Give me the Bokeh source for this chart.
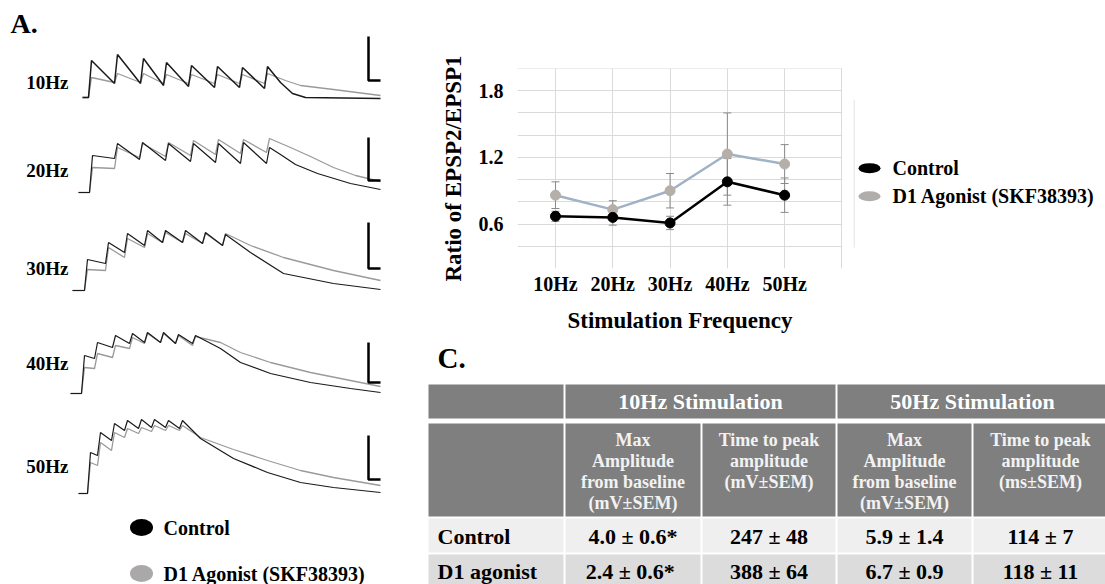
from bokeh.plotting import figure
from bokeh.layouts import row, column
from bokeh.models import Range1d, FixedTicker, Whisker, TeeHead, ColumnDataSource
from bokeh.core.properties import value
from bokeh.embed import file_html
from bokeh.resources import INLINE

SERIF = "Liberation Serif"

# ---------------- data: paired-pulse ratio chart ----------------
freq_labels = ["10Hz", "20Hz", "30Hz", "40Hz", "50Hz"]
freq_pos = [1, 2, 3, 4, 5]
ctrl_ratio = [0.67, 0.66, 0.61, 0.98, 0.86]
ctrl_sem = [0.045, 0.07, 0.06, 0.21, 0.155]
d1_ratio = [0.86, 0.73, 0.90, 1.23, 1.14]
d1_sem = [0.12, 0.08, 0.155, 0.37, 0.175]
y_tick_vals = [0.6, 1.2, 1.8]
legend_labels = ["Control", "D1 Agonist (SKF38393)"]

# ---------------- data: example sweeps (picture units) ----------------
# time from sweep start, amplitude above baseline
peak_t = [
    [9, 35, 61, 84, 109, 135, 160, 185],
    [14, 39, 64, 90, 115, 140, 165, 191],
    [15, 36, 55, 75, 93, 113, 133, 153],
    [14, 27, 45, 62, 77, 93, 108, 125],
    [12, 22, 36, 49, 63, 76, 90, 104],
]
ctrl_peak = [
    [37, 43, 39, 35, 32, 31, 30, 31],
    [37, 49, 50, 49, 49, 49, 50, 45],
    [31, 48, 57, 60, 60, 60, 58, 56],
    [38, 51, 58, 60, 61, 61, 59, 58],
    [41, 61, 70, 73, 74, 74, 73, 73],
]
ctrl_trough = [
    [14, 14, 12, 11, 10, 10, 9],
    [34, 33, 32, 31, 30, 29, 29],
    [27, 38, 45, 48, 48, 47, 45],
    [35, 46, 50, 51, 51, 50, 50],
    [38, 53, 63, 65, 66, 66, 65],
]
d1_peak = [
    [20, 24, 24, 23, 23, 23, 23, 24],
    [25, 45, 49, 50, 52, 53, 53, 54],
    [21, 43, 52, 57, 58, 57, 57, 57],
    [26, 40, 48, 56, 60, 60, 58, 57],
    [31, 51, 61, 65, 66, 68, 68, 68],
]
d1_trough = [
    [15, 15, 14, 14, 14, 14, 14],
    [24, 35, 36, 37, 38, 39, 40],
    [20, 33, 43, 48, 48, 47, 45],
    [25, 36, 45, 50, 51, 50, 48],
    [28, 43, 56, 60, 62, 63, 63],
]
ctrl_tail_t = [[198, 210, 223, 298], [202, 217, 239, 272, 302], [178, 211, 261, 308],
               [150, 170, 200, 240, 280, 310], [122, 155, 189, 222, 255, 302]]
ctrl_tail_amp = [[15, 4, 0, -1], [38, 28, 19, 9, 3], [38, 17, 7, 1],
                 [45, 31, 20, 11, 5, 1], [55, 35, 21, 11, 6, 1]]
d1_tail_t = [[203, 218, 251, 298], [212, 232, 255, 277, 302], [178, 211, 261, 308],
             [150, 170, 200, 240, 280, 310], [122, 155, 189, 222, 255, 302]]
d1_tail_amp = [[17, 12, 8, 2], [45, 36, 25, 17, 11], [45, 33, 20, 10],
               [51, 41, 31, 21, 13, 7], [56, 44, 33, 23, 16, 8]]

# ---------------- data: table ----------------
table_groups = ["10Hz Stimulation", "50Hz Stimulation"]
table_subheads = [
    ["Max", "Amplitude", "from baseline", "(mV\u00b1SEM)"],
    ["Time to peak", "amplitude", "(mV\u00b1SEM)"],
    ["Max", "Amplitude", "from baseline", "(mV\u00b1SEM)"],
    ["Time to peak", "amplitude", "(ms\u00b1SEM)"],
]
table_rows = ["Control", "D1 agonist"]
table_values = [
    ["4.0 \u00b1 0.6*", "247 \u00b1 48", "5.9 \u00b1 1.4", "114 \u00b1 7"],
    ["2.4  \u00b1 0.6*", "388 \u00b1 64", "6.7 \u00b1 0.9", "118 \u00b1 11"],
]

# ---------------- layout constants ----------------
sweep_x0 = [82, 78, 72, 70, 78]
sweep_base = [97, 192, 290, 393, 493]
label_y = [82, 170, 268, 363, 466]
bar_top = [36, 137, 222, 342, 435]
bar_bot = [80, 180, 268, 382, 479]
RISE = 3


def make_sweep(pt, peaks, troughs, tail_t, tail_a):
    t = [0, pt[0] - RISE]
    a = [0, 0]
    for i, (tp, ap) in enumerate(zip(pt, peaks)):
        if i > 0:
            t.append(tp - RISE)
            a.append(troughs[i - 1])
        t.append(tp)
        a.append(ap)
    return t + list(tail_t), a + list(tail_a)


def canvas(w, h, x0, y0):
    f = figure(width=w, height=h, x_range=Range1d(x0, x0 + w), y_range=Range1d(y0 + h, y0),
               x_axis_type=None, y_axis_type=None, output_backend="svg",
               toolbar_location=None, min_border=0)
    f.grid.visible = False
    f.outline_line_color = None
    f.background_fill_color = "white"
    f.border_fill_color = "white"
    return f


def txt(f, x, y, text, size, align="left", color="black"):
    f.text(x=x, y=y, text=text, text_font=value(SERIF), text_font_style="bold",
           text_font_size=size, text_align=align, text_baseline="alphabetic",
           text_color=color)


# ================= left panel: sweeps =================
left = canvas(420, 584, 0, 0)
txt(left, [10], [23], ["A."], "28px")
txt(left, [68] * 5, label_y, freq_labels, "19px", align="right")

for k in range(5):
    ct, ca = make_sweep(peak_t[k], ctrl_peak[k], ctrl_trough[k], ctrl_tail_t[k], ctrl_tail_amp[k])
    dt, da = make_sweep(peak_t[k], d1_peak[k], d1_trough[k], d1_tail_t[k], d1_tail_amp[k])
    left.line([sweep_x0[k] + v for v in dt], [sweep_base[k] - v for v in da],
              line_color="#9a9a9a", line_width=1.3)
    left.line([sweep_x0[k] + v for v in ct], [sweep_base[k] - v for v in ca],
              line_color="#1a1a1a", line_width=1.5 if k == 0 else 1.2)
    left.line([368, 368, 380], [bar_top[k], bar_bot[k], bar_bot[k]],
              line_color="black", line_width=2.5)

left.ellipse(x=[141, 141], y=[527, 573], width=23, height=17,
             fill_color=["black", "#aaa8a8"], line_color=None)
txt(left, [163, 163], [527, 573], legend_labels, "20px")

# ================= chart =================
chart = figure(width=433, height=335, x_range=Range1d(0.337, 6.01), y_range=Range1d(0.2, 2.0),
               output_backend="svg", toolbar_location=None,
               min_border_left=97, min_border_right=11, min_border_top=68, min_border_bottom=65)
chart.outline_line_color = None
chart.background_fill_color = "white"
chart.border_fill_color = "white"

chart.xaxis.ticker = FixedTicker(ticks=freq_pos)
chart.xaxis.major_label_overrides = {p: l for p, l in zip(freq_pos, freq_labels)}
chart.yaxis.ticker = FixedTicker(ticks=y_tick_vals)
chart.xaxis.axis_label = "Stimulation Frequency"
chart.yaxis.axis_label = "Ratio of EPSP2/EPSP1"
for ax in (chart.xaxis, chart.yaxis):
    ax.axis_line_color = None
    ax.major_tick_line_color = None
    ax.minor_tick_line_color = None
    ax.major_tick_out = 0
    ax.major_tick_in = 0
    ax.minor_tick_out = 0
    ax.major_label_text_font = SERIF
    ax.major_label_text_font_style = "bold"
    ax.major_label_text_font_size = "20px"
    ax.major_label_text_color = "black"
    ax.axis_label_text_font = SERIF
    ax.axis_label_text_font_style = "bold"
    ax.axis_label_text_font_size = "23px"
    ax.axis_label_text_color = "black"
chart.xaxis.major_label_standoff = 4
chart.xaxis.axis_label_standoff = 10
chart.yaxis.major_label_standoff = 14
chart.yaxis.axis_label_standoff = 10

chart.xgrid.ticker = FixedTicker(ticks=freq_pos + [5.999])
chart.ygrid.ticker = FixedTicker(ticks=[0.4, 0.6, 0.8, 1.0, 1.2, 1.4, 1.6, 1.8, 1.999])
chart.grid.grid_line_color = "#dadada"
chart.grid.grid_line_width = 1

for ys, es in ((d1_ratio, d1_sem), (ctrl_ratio, ctrl_sem)):
    src = ColumnDataSource(dict(x=freq_pos, up=[a + b for a, b in zip(ys, es)],
                                lo=[a - b for a, b in zip(ys, es)]))
    chart.add_layout(Whisker(source=src, base="x", upper="up", lower="lo",
                             line_color="#8a8a8a", line_width=1, level="underlay",
                             upper_head=TeeHead(size=8, line_color="#8a8a8a", line_width=1),
                             lower_head=TeeHead(size=8, line_color="#8a8a8a", line_width=1)))

chart.line(freq_pos, d1_ratio, line_color="#a0b2c6", line_width=2.5)
chart.scatter(freq_pos, d1_ratio, size=10, fill_color="#b5afa9", line_color="#b5afa9")
chart.line(freq_pos, ctrl_ratio, line_color="black", line_width=2.5)
chart.scatter(freq_pos, ctrl_ratio, size=10, fill_color="black", line_color="black")

# ================= chart legend =================
leg = canvas(252, 335, 853, 0)
leg.line([853.5, 853.5], [53, 300], line_color="#dadada", line_width=1)
leg.ellipse(x=[869, 869], y=[167, 214], width=22, height=17,
            fill_color=["black", "#b0adab"], line_color=None)
txt(leg, [892, 892], [167, 214], legend_labels, "20px")

# ================= table =================
tab = canvas(685, 249, 420, 335)
txt(tab, [437], [357], ["C."], "29px")

col_edges = [427, 564, 701, 836, 972, 1108]
group_edges = [(427, 564), (564, 836), (836, 1108)]
L, R, T, B, C = [], [], [], [], []
for (a, b) in group_edges:
    L.append(a + 1); R.append(b - 1); T.append(384); B.append(418); C.append("#7f7f7f")
row_spans = [(422, 517, "#7f7f7f"), (517, 553, "#efefef"), (553, 592, "#dcdcdc")]
for (t0, b0, colr) in row_spans:
    for i in range(5):
        L.append(col_edges[i] + 1); R.append(col_edges[i + 1] - 1)
        T.append(t0 + 1); B.append(b0 - 1); C.append(colr)
tab.quad(left=L, right=R, top=T, bottom=B, fill_color=C, line_color=None)

group_cx = [(a + b) / 2 for (a, b) in group_edges[1:]]
txt(tab, group_cx, [401, 401], table_groups, "22px", align="center", color="white")

col_cx = [(col_edges[i] + col_edges[i + 1]) / 2 for i in range(1, 5)]
hx, hy, ht = [], [], []
for i, lines in enumerate(table_subheads):
    for j, s in enumerate(lines):
        hx.append(col_cx[i]); hy.append(439 + 21 * j); ht.append(s)
txt(tab, hx, hy, ht, "18px", align="center", color="#f2f2f2")

row_y = [536, 571]
txt(tab, [437, 437], row_y, table_rows, "22px")
vx, vy, vt = [], [], []
for r, vals in enumerate(table_values):
    for i, s in enumerate(vals):
        vx.append(col_cx[i]); vy.append(row_y[r]); vt.append(s)
txt(tab, vx, vy, vt, "22px", align="center")

layout = row(left, column(row(chart, leg), tab))
open("out.html", "w").write(file_html(layout, INLINE))
